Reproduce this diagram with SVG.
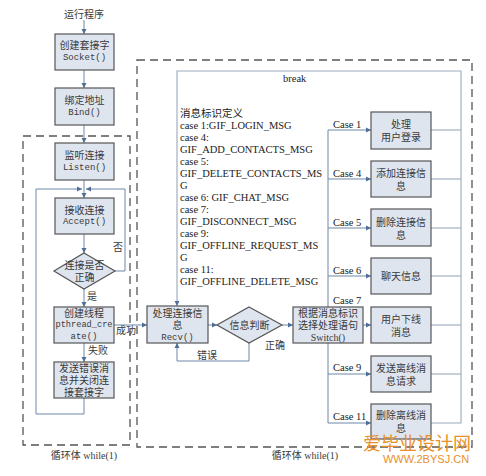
<svg xmlns="http://www.w3.org/2000/svg" width="486" height="476" viewBox="0 0 486 476">
<defs>
<marker id="ah" markerWidth="6" markerHeight="6" refX="5" refY="3" orient="auto" markerUnits="userSpaceOnUse">
<path d="M0,0.5 L5,3 L0,5.5 Z" fill="#4f6f99"/>
</marker>
<style>
.box{fill:#dfe5ef;stroke:#555;stroke-width:1.2}
.dash{fill:none;stroke:#555;stroke-width:1.3;stroke-dasharray:8,5}
.ln{fill:none;stroke:#6d87a8;stroke-width:1}
.fr{fill:none;stroke:#9aaabb;stroke-width:1.1}
.cn{font-family:"Liberation Serif","Noto Sans CJK SC",serif;font-size:10px;fill:#3a3a3a;text-anchor:middle;dominant-baseline:central}
.mn{font-family:"Liberation Mono","Noto Sans CJK SC",monospace;font-size:9px;fill:#3a3a3a;text-anchor:middle;dominant-baseline:central}
.tx{font-family:"Liberation Serif","Noto Sans CJK SC",serif;font-size:10.5px;fill:#222;dominant-baseline:central}
.wm{font-family:"Noto Sans CJK SC",sans-serif;fill:#e8902c}
</style>
</defs>

<rect class="dash" x="23" y="136" width="107" height="309"/>
<rect class="dash" x="137" y="60" width="335" height="387"/>

<g id="connectors">
<line class="ln" x1="84" y1="20" x2="84" y2="34" marker-end="url(#ah)"/>
<line class="ln" x1="84" y1="70" x2="84" y2="88" marker-end="url(#ah)"/>
<line class="ln" x1="84" y1="125" x2="84" y2="143" marker-end="url(#ah)"/>
<line class="ln" x1="84" y1="180" x2="84" y2="198" marker-end="url(#ah)"/>
<polyline class="ln" points="84,398 84,414 36,414 36,189 82,189" marker-end="url(#ah)"/>
<polyline class="ln" points="115,271 125,271 125,189 86,189" marker-end="url(#ah)"/>
<line class="ln" x1="84" y1="234" x2="84" y2="253" marker-end="url(#ah)"/>
<line class="ln" x1="84" y1="289" x2="84" y2="307" marker-end="url(#ah)"/>
<line class="ln" x1="84" y1="343" x2="84" y2="362" marker-end="url(#ah)"/>
<line class="ln" x1="114" y1="325" x2="147" y2="325" marker-end="url(#ah)"/>
<line class="ln" x1="208" y1="325" x2="217" y2="325" marker-end="url(#ah)"/>
<line class="ln" x1="282" y1="325" x2="293" y2="325" marker-end="url(#ah)"/>
<polyline class="ln" points="249,343 249,361 177,361 177,343" marker-end="url(#ah)"/>
<polyline class="fr" points="431,423 461,423 461,71 177,71 177,306" marker-end="url(#ah)"/>
<line class="fr" x1="431" y1="130" x2="461" y2="130"/>
<line class="fr" x1="431" y1="179" x2="461" y2="179"/>
<line class="fr" x1="431" y1="228" x2="461" y2="228"/>
<line class="fr" x1="431" y1="276" x2="461" y2="276"/>
<line class="fr" x1="431" y1="325" x2="461" y2="325"/>
<line class="fr" x1="431" y1="374" x2="461" y2="374"/>
<line class="ln" x1="328" y1="130" x2="328" y2="307"/>
<line class="ln" x1="328" y1="343" x2="328" y2="423"/>
<line class="ln" x1="328" y1="130" x2="371" y2="130" marker-end="url(#ah)"/>
<line class="ln" x1="328" y1="179" x2="371" y2="179" marker-end="url(#ah)"/>
<line class="ln" x1="328" y1="228" x2="371" y2="228" marker-end="url(#ah)"/>
<line class="ln" x1="328" y1="276" x2="371" y2="276" marker-end="url(#ah)"/>
<line class="ln" x1="363" y1="325" x2="371" y2="325" marker-end="url(#ah)"/>
<line class="ln" x1="328" y1="374" x2="371" y2="374" marker-end="url(#ah)"/>
<line class="ln" x1="328" y1="423" x2="371" y2="423" marker-end="url(#ah)"/>
</g>

<g id="labels">
<text class="cn" x="84" y="14">运行程序</text>
<text class="cn" x="118" y="247">否</text>
<text class="cn" x="92" y="296">是</text>
<text class="cn" x="98" y="350">失败</text>
<text class="cn" x="126" y="330">成功</text>
<text class="cn" x="207" y="355">错误</text>
<text class="cn" x="275" y="345">正确</text>
<text class="tx" x="283" y="78">break</text>
<text class="tx" x="333" y="124">Case 1</text>
<text class="tx" x="333" y="173">Case 4</text>
<text class="tx" x="333" y="222">Case 5</text>
<text class="tx" x="333" y="270">Case 6</text>
<text class="tx" x="333" y="300">Case 7</text>
<text class="tx" x="333" y="367">Case 9</text>
<text class="tx" x="333" y="416">Case 11</text>
<text class="cn" x="84" y="455">循环体 while(1)</text>
<text class="cn" x="305" y="455">循环体 while(1)</text>
</g>

<g id="msgdef">
<text class="tx" x="180" y="113">消息标识定义</text>
<text class="tx" x="180" y="125">case 1:GIF_LOGIN_MSG</text>
<text class="tx" x="180" y="137">case 4:</text>
<text class="tx" x="180" y="149">GIF_ADD_CONTACTS_MSG</text>
<text class="tx" x="180" y="161">case 5:</text>
<text class="tx" x="180" y="173.5">GIF_DELETE_CONTACTS_MS</text>
<text class="tx" x="180" y="185.5">G</text>
<text class="tx" x="180" y="197.5">case 6: GIF_CHAT_MSG</text>
<text class="tx" x="180" y="209.5">case 7:</text>
<text class="tx" x="180" y="221.5">GIF_DISCONNECT_MSG</text>
<text class="tx" x="180" y="233.5">case 9:</text>
<text class="tx" x="180" y="245.5">GIF_OFFLINE_REQUEST_MS</text>
<text class="tx" x="180" y="257.5">G</text>
<text class="tx" x="180" y="269.5">case 11:</text>
<text class="tx" x="180" y="281.5">GIF_OFFLINE_DELETE_MSG</text>
</g>

<g id="socket"><rect class="box" x="55" y="34" width="59" height="36"/><text class="cn" x="84.5" y="45">创建套接字</text><text class="mn" x="84.5" y="58">Socket()</text></g>
<g id="bind"><rect class="box" x="55" y="88" width="59" height="37"/><text class="cn" x="84.5" y="100">绑定地址</text><text class="mn" x="84.5" y="113">Bind()</text></g>
<g id="listen"><rect class="box" x="55" y="143" width="59" height="37"/><text class="cn" x="84.5" y="155">监听连接</text><text class="mn" x="84.5" y="168">Listen()</text></g>
<g id="accept"><rect class="box" x="55" y="198" width="59" height="36"/><text class="cn" x="84.5" y="210">接收连接</text><text class="mn" x="84.5" y="222">Accept()</text></g>
<g id="check"><polygon class="box" points="84,253 115,271 84,289 54,271"/><text class="cn" x="84.5" y="265">连接是否</text><text class="cn" x="84.5" y="277">正确</text></g>
<g id="pthread"><rect class="box" x="54" y="307" width="60" height="36"/><text class="cn" x="84" y="313">创建线程</text><text class="mn" x="84" y="325" textLength="57" lengthAdjust="spacingAndGlyphs">pthread_cre</text><text class="mn" x="84" y="337">ate()</text></g>
<g id="error"><rect class="box" x="54" y="362" width="60" height="36"/><text class="cn" x="84" y="368">发送错误消</text><text class="cn" x="84" y="380">息并关闭连</text><text class="cn" x="84" y="392">接套接字</text></g>

<g id="recv"><rect class="box" x="147" y="306" width="61" height="37"/><text class="cn" x="177.5" y="313">处理连接信</text><text class="cn" x="177.5" y="325">息</text><text class="mn" x="177.5" y="338">Recv()</text></g>
<g id="judge"><polygon class="box" points="249,307 282,325 249,343 217,325"/><text class="cn" x="249.5" y="325">信息判断</text></g>
<g id="switch"><rect class="box" x="293" y="307" width="70" height="36"/><text class="cn" x="328" y="313">根据消息标识</text><text class="cn" x="328" y="325">选择处理语句</text><text class="cn" x="328" y="337">Switch()</text></g>

<g id="case1"><rect class="box" x="371" y="112" width="60" height="37"/><text class="cn" x="401" y="124">处理</text><text class="cn" x="401" y="137">用户登录</text></g>
<g id="case4"><rect class="box" x="371" y="161" width="60" height="36"/><text class="cn" x="401" y="173">添加连接信</text><text class="cn" x="401" y="186">息</text></g>
<g id="case5"><rect class="box" x="371" y="209" width="60" height="37"/><text class="cn" x="401" y="222">删除连接信</text><text class="cn" x="401" y="235">息</text></g>
<g id="case6"><rect class="box" x="371" y="258" width="60" height="36"/><text class="cn" x="401" y="276">聊天信息</text></g>
<g id="case7"><rect class="box" x="371" y="307" width="60" height="36"/><text class="cn" x="401" y="319">用户下线</text><text class="cn" x="401" y="332">消息</text></g>
<g id="case9"><rect class="box" x="371" y="356" width="60" height="36"/><text class="cn" x="401" y="368">发送离线消</text><text class="cn" x="401" y="381">息请求</text></g>
<g id="case11"><rect class="box" x="371" y="404" width="60" height="35"/><text class="cn" x="401" y="415">删除离线消</text><text class="cn" x="401" y="428">息</text></g>

<g id="watermark">
<text class="wm" x="417" y="450" font-size="18" text-anchor="middle">爱毕业设计网</text>
<text x="426" y="463" font-family="Liberation Sans,sans-serif" font-size="11" fill="#e8902c" text-anchor="middle">WWW.2BYSJ.CN</text>
</g>
</svg>
